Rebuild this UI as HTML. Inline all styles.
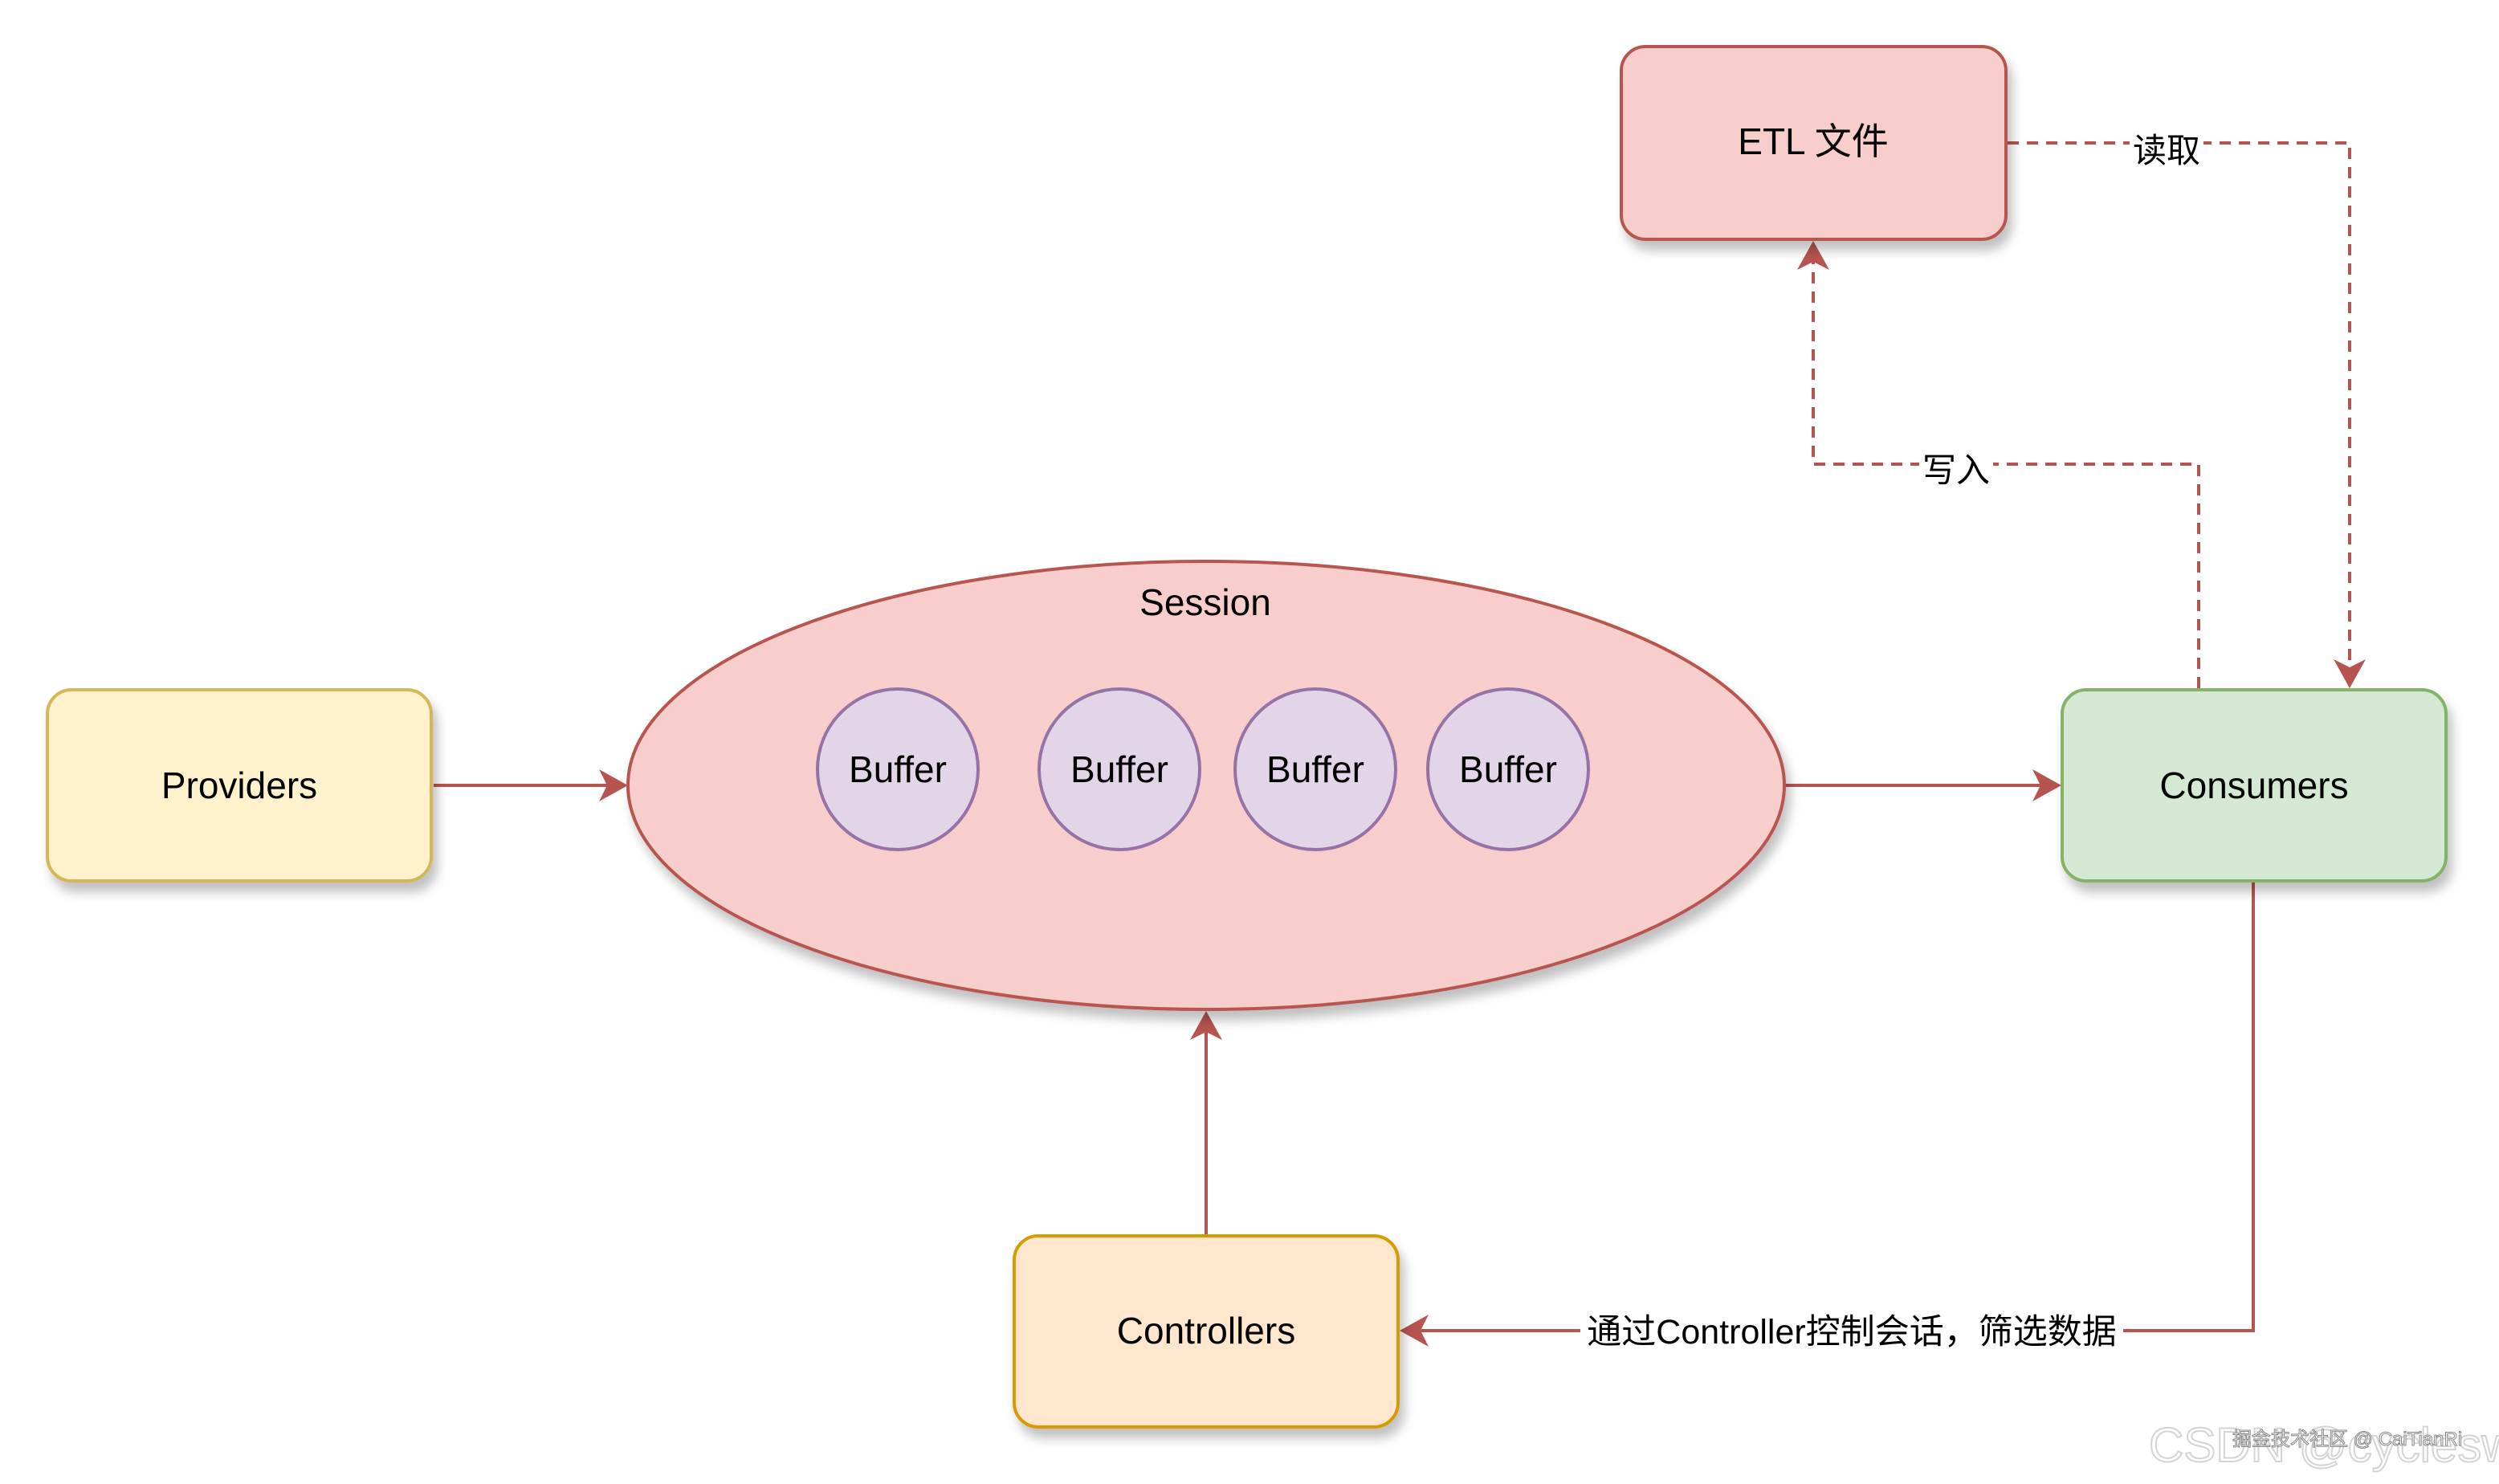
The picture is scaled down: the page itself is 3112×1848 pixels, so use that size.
<!DOCTYPE html>
<html><head><meta charset="utf-8"><style>
html,body{margin:0;padding:0;background:#fff;}
svg{display:block;}
text{font-family:"Liberation Sans","Noto Sans CJK SC",sans-serif;fill:#000;}
</style></head><body>
<svg width="3112" height="1848" viewBox="0 0 3112 1848" xmlns="http://www.w3.org/2000/svg">
<defs>
<filter id="sh" x="-20%" y="-20%" width="150%" height="160%">
<feGaussianBlur in="SourceAlpha" stdDeviation="7"/>
<feOffset dx="6" dy="12" result="b"/>
<feComponentTransfer><feFuncA type="linear" slope="0.25"/></feComponentTransfer>
<feMerge><feMergeNode/><feMergeNode in="SourceGraphic"/></feMerge>
</filter>
</defs>
<rect width="3112" height="1848" fill="#fff"/>

<g stroke="#b85450" stroke-width="4" fill="none">
<line x1="540" y1="978" x2="760" y2="978"/>
<line x1="2222" y1="978" x2="2545" y2="978"/>
<line x1="1502" y1="1538" x2="1502" y2="1282"/>
<polyline points="2806,1098 2806,1657 1765,1657"/>
<g stroke-dasharray="14,10">
<polyline points="2500,178 2926,178 2926,835"/>
<polyline points="2738,857 2738,578 2258,578 2258,322"/>
</g>
</g>
<g fill="#b85450">
<polygon points="782,978 746,958 756,978 746,998"/>
<polygon points="2567,978 2531,958 2541,978 2531,998"/>
<polygon points="1502,1259 1482,1295 1502,1285 1522,1295"/>
<polygon points="1743,1657 1779,1637 1769,1657 1779,1677"/>
<polygon points="2926,857 2906,821 2926,831 2946,821"/>
<polygon points="2258,300 2238,336 2258,326 2278,336"/>
</g>

<rect x="59" y="859" width="478" height="238" rx="30" fill="#fff2cc" stroke="#d6b656" stroke-width="4" filter="url(#sh)"/>
<rect x="2568" y="859" width="478" height="238" rx="30" fill="#d5e8d4" stroke="#82b366" stroke-width="4" filter="url(#sh)"/>
<rect x="1263" y="1539" width="478" height="238" rx="30" fill="#ffe6cc" stroke="#d79b00" stroke-width="4" filter="url(#sh)"/>
<rect x="2019" y="58" width="479" height="240" rx="30" fill="#f8cecc" stroke="#b85450" stroke-width="4" filter="url(#sh)"/>
<ellipse cx="1502" cy="978" rx="720" ry="279" fill="#f8cecc" stroke="#b85450" stroke-width="4" filter="url(#sh)"/>
<g fill="#e1d5e7" stroke="#9673a6" stroke-width="4">
<circle cx="1118" cy="958" r="100"/>
<circle cx="1394" cy="958" r="100"/>
<circle cx="1638" cy="958" r="100"/>
<circle cx="1878" cy="958" r="100"/>
</g>

<g font-size="46" text-anchor="middle">
<text x="298" y="994">Providers</text>
<text x="2807" y="994">Consumers</text>
<text x="1502" y="1673">Controllers</text>
<text x="2258" y="192">ETL 文件</text>
<text x="1501" y="766">Session</text>
<text x="1118" y="974">Buffer</text>
<text x="1394" y="974">Buffer</text>
<text x="1638" y="974">Buffer</text>
<text x="1878" y="974">Buffer</text>
</g>
<g font-size="42" text-anchor="middle">
<rect x="2652" y="158" width="92" height="44" fill="#fff"/>
<text x="2698" y="202">读取</text>
<rect x="2390" y="560" width="92" height="44" fill="#fff"/>
<text x="2436" y="600">写入</text>
<rect x="1968" y="1632" width="676" height="50" fill="#fff"/>
<text x="2306" y="1673" font-size="43">通过Controller控制会话，筛选数据</text>
</g>

<text x="2676" y="1820" font-size="60" stroke="#d4d4d4" stroke-width="2" style="fill:#fff">CSDN @cyclesw</text>
<text x="2780" y="1800" font-size="24" stroke="#888" stroke-width="1" style="fill:#fff">掘金技术社区 @ CaiTianRi</text>
</svg>
</body></html>
